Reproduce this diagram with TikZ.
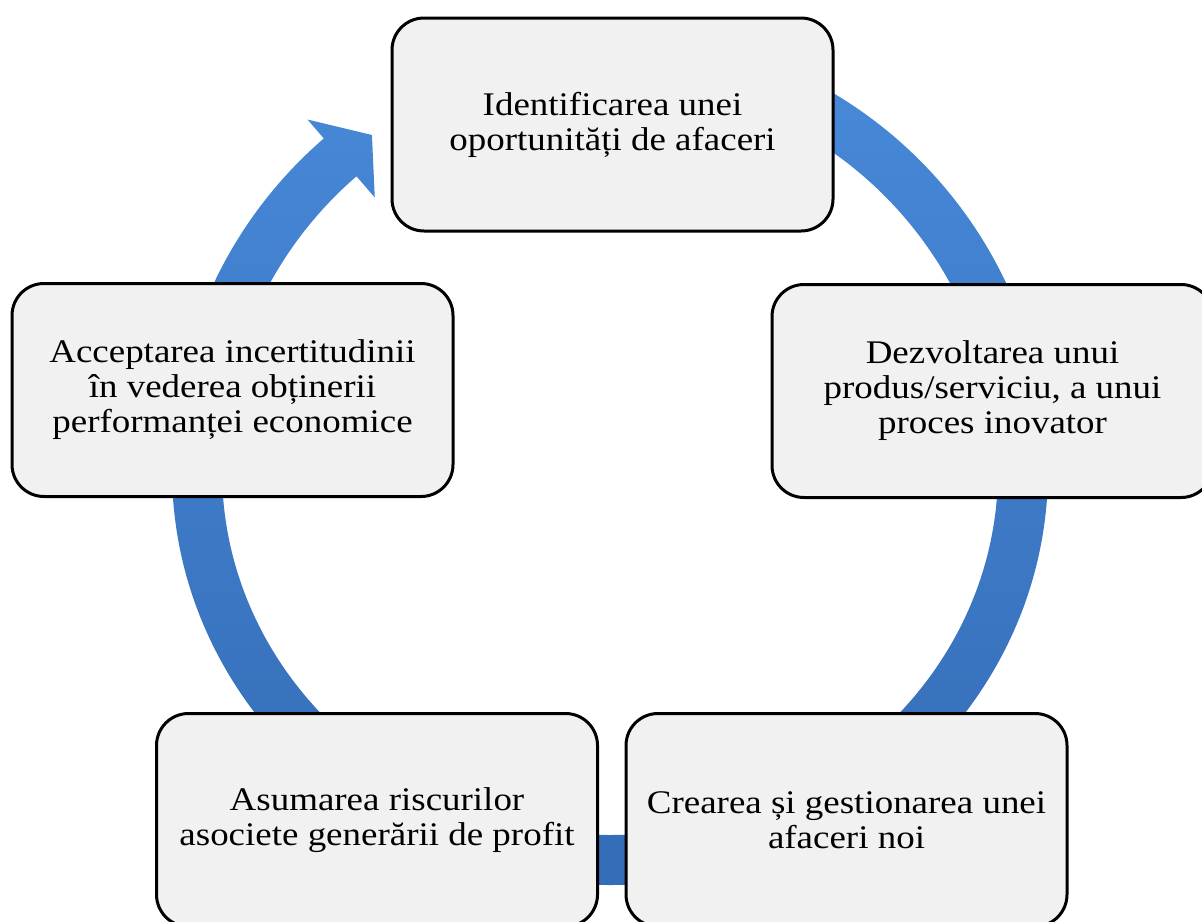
\documentclass[tikz,border=0pt]{standalone}
\usepackage{fontspec}
\setmainfont[FakeStretch=1.12]{Liberation Serif}
\usetikzlibrary{calc}
\definecolor{boxfill}{RGB}{241,241,241}
\definecolor{ringtop}{RGB}{72,138,218}
\definecolor{ringbot}{RGB}{52,108,182}
\tikzset{
  stage/.style={draw=black, line width=1.5pt, fill=boxfill, rounded corners=16pt,
    minimum width=220.5pt, minimum height=106.5pt, align=center, inner sep=0pt,
    font=\fontsize{16.5}{17.5}\selectfont}
}
\begin{document}
\begin{tikzpicture}[x=0.5pt,y=0.5pt]
\useasboundingbox (0,0) rectangle (1202,-921);
\clip (0,0) rectangle (1202,-921);
\coordinate (O) at (610,-470);
% cycle band with its arrowhead, shaded top to bottom
\begin{scope}
  \clip ($(O)+(80:438)$) arc[start angle=80, end angle=0, radius=438]
    arc[start angle=0, end angle=-180, x radius=438, y radius=415]
    arc[start angle=180, end angle=130.8, radius=438]
    -- ($(O)+(130.8:463)$) -- ($(O)+(125.4:411)$) -- ($(O)+(130.8:360)$)
    -- ($(O)+(130.8:388)$)
    arc[start angle=130.8, end angle=180, radius=388]
    arc[start angle=-180, end angle=0, x radius=388, y radius=365]
    arc[start angle=0, end angle=80, radius=388] -- cycle;
  \shade[top color=ringtop, bottom color=ringbot] (150,-20) rectangle (1100,-900);
\end{scope}
% stages
\node[stage] (ident) at (612.5,-124.5) {Identificarea unei\\oportunități de afaceri};
\node[stage] (dezv) at (992.5,-391) {Dezvoltarea unui\\produs/serviciu, a unui\\proces inovator};
\node[stage] (creare) at (846.5,-820) {Crearea și gestionarea unei\\afaceri noi};
\node[stage] (asum) at (377,-820) {Asumarea riscurilor\\asociete generării de profit};
\node[stage] (accept) at (232.5,-390) {Acceptarea incertitudinii\\în vederea obținerii\\performanței economice};
\end{tikzpicture}
\end{document}
